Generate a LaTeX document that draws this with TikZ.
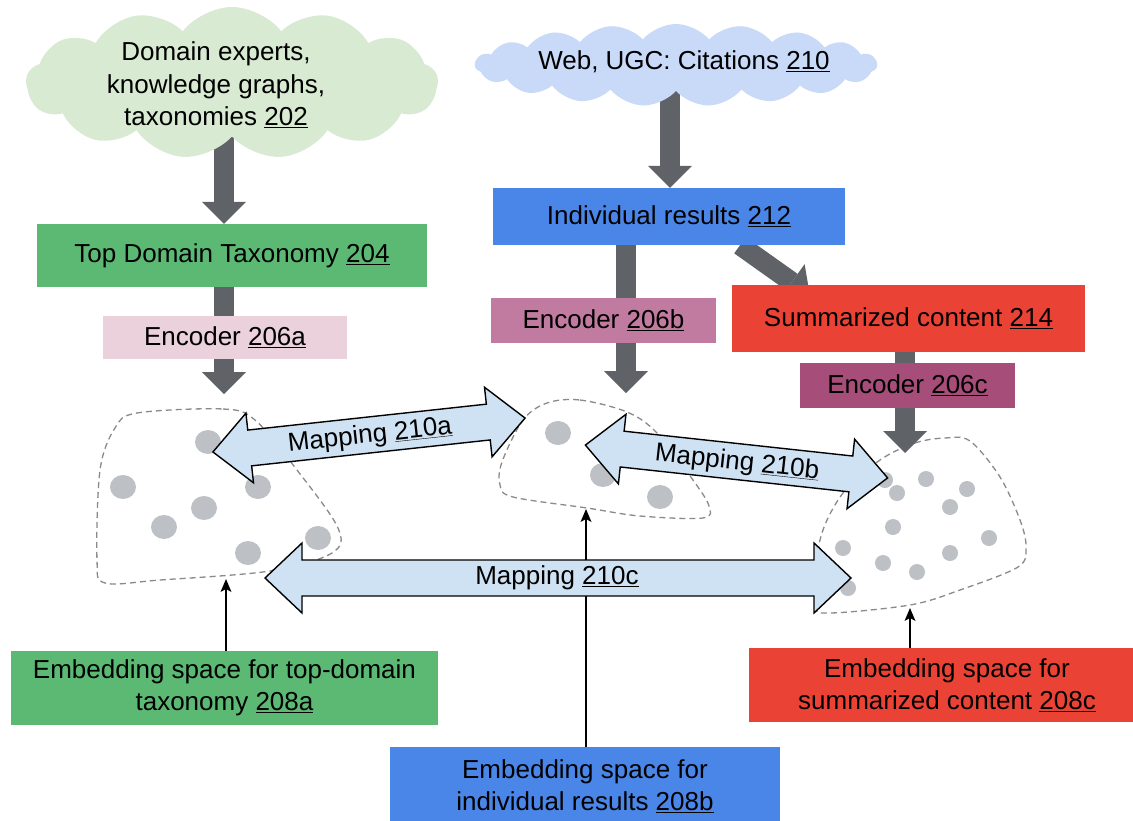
\documentclass[tikz,border=0pt]{standalone}
\usepackage{fontspec}
\setmainfont{Liberation Sans}
\usetikzlibrary{shapes.symbols,arrows.meta,calc}
\definecolor{cloudgreen}{HTML}{D9EAD3}
\definecolor{cloudblue}{HTML}{C9DAF8}
\definecolor{boxgreen}{HTML}{5BB974}
\definecolor{boxblue}{HTML}{4A86E8}
\definecolor{boxred}{HTML}{EA4335}
\definecolor{encA}{HTML}{EAD1DC}
\definecolor{encB}{HTML}{C27BA0}
\definecolor{encC}{HTML}{A64D79}
\definecolor{mapblue}{HTML}{CFE2F3}
\definecolor{arrowgrey}{HTML}{5F6368}
\definecolor{dotgrey}{HTML}{BDC1C6}
\definecolor{blobgrey}{HTML}{8A8A8A}
\pgfdeclarelayer{background}
\pgfsetlayers{background,main}
\tikzset{
  box/.style={rectangle, inner sep=0pt, align=center, text=black},
  cloudnode/.style={cloud, cloud ignores aspect, inner sep=0pt, draw=none},
  garrow/.style={draw=arrowgrey, line width=20pt, -{Triangle[length=22pt,width=44pt,line width=0pt]}},
  tarrow/.style={draw=black, line width=1.8pt, -{Stealth[length=13pt,width=11pt,inset=3pt,line width=0pt]}},
  blob/.style={draw=blobgrey, dash pattern=on 6pt off 4pt, line width=1.3pt},
  dot/.style={fill=dotgrey},
  maparrow/.style={draw=black, fill=mapblue, line width=1.4pt, line join=miter},
  pics/dblarrow/.style={code={%
    \path[maparrow] (-#1,0) -- (-#1+37,-35) -- (-#1+37,-18) -- (#1-37,-18) -- (#1-37,-35) -- (#1,0)
      -- (#1-37,35) -- (#1-37,18) -- (-#1+37,18) -- (-#1+37,35) -- cycle;}}
}
\begin{document}
\begin{tikzpicture}[x=1pt,y=-1pt,font=\fontsize{26pt}{32.5pt}\selectfont]
\useasboundingbox (0,0) rectangle (1133,820);

% clouds
\node[cloudnode, cloud puffs=13, cloud puff arc=105, fill=cloudgreen, minimum width=412, minimum height=152] (cA) at (232,83) {};
\node[align=center, inner sep=0pt] (tA) at (216,85) {Domain experts,\\knowledge graphs,\\taxonomies \underline{202}};
\node[cloudnode, cloud puffs=19, cloud puff arc=100, fill=cloudblue, minimum width=402, minimum height=82] (cB) at (676,65) {};
\node[inner sep=0pt] (tB) at (684,62) {Web, UGC: Citations \underline{210}};

% boxes
\node[box, fill=boxgreen, minimum width=390, minimum height=63] (b204) at (232,255.5) {Top Domain Taxonomy \underline{204}};
\node[box, fill=boxblue, minimum width=352, minimum height=57] (b212) at (669,216.5) {Individual results \underline{212}};
\node[box, fill=encA, minimum width=244, minimum height=43] (e206a) at (225,337.5) {Encoder \underline{206a}};
\node[box, fill=encB, minimum width=225, minimum height=45] (e206b) at (603.5,320.5) {Encoder \underline{206b}};
\node[box, fill=boxred, minimum width=353, minimum height=67] (b214) at (908.5,318.5) {Summarized content \underline{214}};
\node[box, fill=encC, minimum width=215, minimum height=45] (e206c) at (907.5,385.5) {Encoder \underline{206c}};
\node[box, fill=boxgreen, minimum width=427, minimum height=74] (b208a) at (224.5,688) {Embedding space for top-domain\\taxonomy \underline{208a}};
\node[box, fill=boxblue, minimum width=390, minimum height=78] (b208b) at (585,786) {Embedding space for\\individual results \underline{208b}};
\node[box, fill=boxred, minimum width=396, minimum height=74] (b208c) at (947,685) {Embedding space for\\summarized content \underline{208c}};

% helper coordinates
\coordinate (xA) at (224,0);
\coordinate (xB) at (670,0);
\coordinate (topA) at (224,394);
\coordinate (topB) at (626,393);
\coordinate (topC) at (905,453);
\coordinate (botA) at (226,579);
\coordinate (botB) at (586,509);
\coordinate (botC) at (910,608);
\coordinate (dS) at ($(b212.south)+(71,0)$);
\coordinate (dE) at ($(b214.north west)+(78,10)$);

\begin{pgfonlayer}{background}
\fill[white] (0,0) rectangle (1133,820);
% embedding spaces
\draw[blob] plot[smooth cycle, tension=0.55] coordinates {(137,413) (223,409) (255,420) (297,470) (338,528) (332,553) (270,571) (160,580) (105,583) (97,560) (100,470) (115,428)};
\draw[blob] plot[smooth cycle, tension=0.55] coordinates {(547,403) (580,400) (627,412) (657,433) (693,480) (709,506) (703,518) (640,516) (587,508) (513,497) (500,485) (502,462) (523,420)};
\draw[blob] plot[smooth cycle, tension=0.55] coordinates {(880,460) (915,443) (945,438) (970,441) (1000,477) (1020,520) (1026,547) (1018,567) (960,590) (910,605) (827,613) (817,603) (820,540) (843,493)};
\foreach \p in {(208,442),(123,487),(258,487),(204,508),(164,527),(318,538),(248,553),(558,433),(603,475),(660,497)}
  \fill[dot] \p ellipse[x radius=13pt, y radius=12pt];
\foreach \p in {(897,493),(926,479),(967,489),(950,507),(893,527),(989,538),(843,548),(883,563),(950,553),(917,572),(848,588),(885,480)}
  \fill[dot] \p circle[radius=8pt];
% grey flow arrows
\draw[garrow] (xA |- cA.south) -- (xA |- b204.north);
\draw[garrow] (xB |- cB.south) -- (xB |- b212.north);
\draw[garrow] (topA |- b204.south) -- (topA);
\draw[garrow] (topB |- b212.south) -- (topB);
\draw[garrow] (topC |- b214.south) -- (topC);
\draw[garrow] (dS) -- (dE);
\end{pgfonlayer}

% thin arrows
\draw[tarrow] (botA |- b208a.north) -- (botA);
\draw[tarrow] (botB |- b208b.north) -- (botB);
\draw[tarrow] (botC |- b208c.north) -- (botC);

% mapping arrows
\pic[rotate=6.2] at (369,435) {dblarrow=157};
\node[rotate=6.2, inner sep=0pt] (m210a) at (370,436) {Mapping \underline{210a}};
\pic[rotate=-6.2] at (736.5,461.5) {dblarrow=152};
\node[rotate=-6.2, inner sep=0pt] (m210b) at (737,463) {Mapping \underline{210b}};
\pic at (558,578) {dblarrow=293};
\node[inner sep=0pt] (m210c) at (557,578) {Mapping \underline{210c}};
\end{tikzpicture}
\end{document}
